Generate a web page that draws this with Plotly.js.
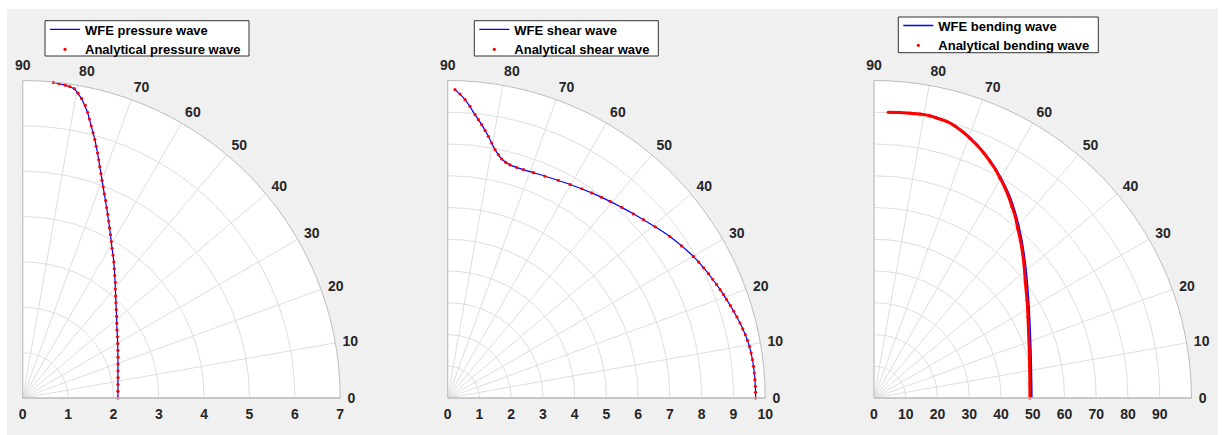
<!DOCTYPE html>
<html>
<head>
<meta charset="utf-8">
<script src="https://cdn.plot.ly/plotly-3.0.1.min.js"></script>
<style>
  html, body { margin: 0; padding: 0; background: #ffffff; }
  #chart { width: 1223px; height: 435px; }
</style>
</head>
<body>
<div id="chart"></div>
<script>
// ---- angular / radial ticks ----
const angleTicks = [0, 10, 20, 30, 40, 50, 60, 70, 80, 90];
const angleTickText = ['0', '10', '20', '30', '40', '50', '60', '70', '80', '90'];
const pressureRadialTicks = [0, 1, 2, 3, 4, 5, 6, 7];
const shearRadialTicks = [0, 1, 2, 3, 4, 5, 6, 7, 8, 9, 10];
const bendingRadialTicks = [0, 10, 20, 30, 40, 50, 60, 70, 80, 90];

// ---- pressure wave ----
const pressureWfeTheta = [0, 8.13, 15.95, 23.2, 29.8, 35.8, 41.0, 45.6, 49.6, 53.07, 56.18, 59.16, 61.74, 64.08, 66.23, 68.2, 69.97, 71.57, 73.0, 74.41, 75.87, 77.21, 78.86, 80.51, 82.26, 83.37, 84.46];
const pressureWfeR = [2.10, 2.121, 2.184, 2.285, 2.414, 2.564, 2.743, 2.938, 3.153, 3.378, 3.611, 3.843, 4.087, 4.336, 4.589, 4.847, 5.109, 5.376, 5.646, 5.918, 6.187, 6.46, 6.727, 6.915, 6.96, 6.975, 6.99];
const pressureAnaTheta = [0, 4.09, 8.13, 12.1, 15.95, 19.65, 23.2, 26.57, 29.8, 32.86, 35.8, 38.5, 41.0, 43.4, 45.6, 47.7, 49.6, 51.3, 53.07, 54.68, 56.18, 57.72, 59.16, 60.47, 61.74, 62.95, 64.08, 65.16, 66.23, 67.18, 68.2, 69.1, 69.97, 70.78, 71.57, 72.3, 73.0, 73.73, 74.41, 75.16, 75.87, 76.56, 77.21, 77.92, 78.86, 79.71, 80.51, 81.4, 82.26, 83.37, 84.46];
const pressureAnaR = [2.10, 2.105, 2.121, 2.148, 2.184, 2.23, 2.285, 2.348, 2.414, 2.488, 2.564, 2.651, 2.743, 2.837, 2.938, 3.044, 3.153, 3.266, 3.378, 3.493, 3.611, 3.726, 3.843, 3.965, 4.087, 4.211, 4.336, 4.463, 4.589, 4.719, 4.847, 4.977, 5.109, 5.242, 5.376, 5.511, 5.646, 5.782, 5.918, 6.052, 6.187, 6.323, 6.46, 6.596, 6.727, 6.83, 6.915, 6.945, 6.96, 6.975, 6.99];

// ---- shear wave ----
const shearWfeTheta = [0, 2.17, 4.66, 7.17, 9.7, 12.02, 14.39, 16.88, 19.42, 21.69, 24.14, 26.95, 29.97, 33.07, 36.02, 39.51, 42.34, 44.79, 47.62, 50.46, 54.92, 60.17, 66.29, 71.66, 75.04, 77.27, 79.21, 81.17, 82.91, 84.49, 86.67, 88.64];
const shearWfeR = [9.700, 9.697, 9.690, 9.675, 9.641, 9.583, 9.505, 9.413, 9.317, 9.235, 9.146, 9.045, 8.929, 8.785, 8.650, 8.472, 8.339, 8.236, 8.128, 8.031, 7.893, 7.752, 7.628, 7.579, 7.600, 7.717, 7.962, 8.340, 8.675, 8.965, 9.412, 9.714];
const shearAnaTheta = [0, 1.05, 2.17, 3.41, 4.66, 5.91, 7.17, 8.43, 9.7, 10.88, 12.02, 13.17, 14.39, 15.66, 16.88, 18.11, 19.42, 20.55, 21.69, 22.9, 24.14, 25.5, 26.95, 28.42, 29.97, 33.07, 36.02, 39.51, 42.34, 44.79, 47.62, 50.46, 52.54, 54.92, 57.34, 60.17, 63.06, 66.29, 69.16, 71.66, 73.32, 75.04, 76.17, 77.27, 78.24, 79.21, 80.21, 81.17, 82.06, 82.91, 83.71, 84.49, 85.62, 86.67, 87.68, 88.64];
const shearAnaR = [9.700, 9.699, 9.697, 9.694, 9.690, 9.684, 9.675, 9.661, 9.641, 9.615, 9.583, 9.546, 9.505, 9.458, 9.413, 9.367, 9.317, 9.276, 9.235, 9.191, 9.146, 9.097, 9.045, 8.990, 8.929, 8.785, 8.650, 8.472, 8.339, 8.236, 8.128, 8.031, 7.964, 7.893, 7.828, 7.752, 7.691, 7.628, 7.594, 7.579, 7.578, 7.600, 7.644, 7.717, 7.829, 7.962, 8.150, 8.340, 8.512, 8.675, 8.819, 8.965, 9.213, 9.412, 9.583, 9.714];

// ---- bending wave ----
const bendingWfeTheta = [0, 11.29, 22.63, 32.58, 41.12, 47.15, 52.07, 56.23, 60.16, 63.8, 67.87, 71.42, 75.27, 78.74, 82.76, 87.14];
const bendingWfeR = [49.7, 50.55, 53.35, 57.8, 63.4, 68.4, 72.9, 76.8, 80.2, 83.2, 86.2, 88.4, 90.15, 90.7, 90.45, 90.1];
const bendingAnaTheta = [0, 5.26, 11.29, 17.1, 22.63, 27.78, 32.58, 37.1, 41.12, 44.2, 47.15, 49.7, 52.07, 54.2, 56.23, 58.2, 60.16, 61.9, 63.8, 65.8, 67.87, 69.7, 71.42, 73.3, 75.27, 77.0, 78.74, 80.8, 82.76, 84.9, 87.14];
const bendingAnaR = [49.1, 49.3, 49.97, 51.16, 52.76, 54.8, 57.2, 59.8, 62.8, 65.3, 67.8, 70.0, 72.4, 74.3, 76.3, 78.1, 79.8, 81.4, 82.9, 84.5, 86.0, 87.2, 88.3, 89.3, 90.06, 90.3, 90.6, 90.6, 90.42, 90.3, 90.11];

// ---- legend labels ----
const pressureLabels = ['WFE pressure wave', 'Analytical pressure wave'];
const shearLabels = ['WFE shear wave', 'Analytical shear wave'];
const bendingLabels = ['WFE bending wave', 'Analytical bending wave'];

// ---- styling ----
const W = 1223, H = 435;
const FONT = 'Liberation Sans, Arial, Helvetica, sans-serif';
const tickFont = { family: FONT, size: 14, color: '#262626', weight: 'bold' };
const legendFont = { family: FONT, size: 13, color: '#000000', weight: 'bold' };
const BLUE = '#0000ff', RED = '#ff0000';
const GRID = '#dedede', EDGE = '#bdbdbd';
const R = 317.5;        // quarter radius in px
const baseY = 398;      // polar origin row in px (from top)

function polarLayout(originX, rmax, rTicks) {
  return {
    domain: { x: [originX / W, (originX + R) / W], y: [(H - baseY) / H, (H - baseY + R) / H] },
    sector: [0, 90],
    bgcolor: '#ffffff',
    radialaxis: {
      range: [0, rmax], tickmode: 'array', tickvals: rTicks, ticktext: rTicks.map(String),
      angle: 0, side: 'clockwise', showline: true, linecolor: EDGE, linewidth: 1,
      gridcolor: GRID, gridwidth: 1, ticks: 'outside', ticklen: 4, tickcolor: 'rgba(0,0,0,0)',
      tickfont: tickFont
    },
    angularaxis: {
      tickmode: 'array', tickvals: angleTicks, ticktext: angleTickText,
      direction: 'counterclockwise', rotation: 0, showline: true, linecolor: EDGE, linewidth: 1,
      gridcolor: GRID, gridwidth: 1, ticks: 'outside', ticklen: 4, tickcolor: 'rgba(0,0,0,0)',
      tickfont: tickFont
    }
  };
}

function legendLayout(leftPx, topPx) {
  return {
    x: leftPx / W, y: 1 - topPx / H, xanchor: 'left', yanchor: 'top',
    bgcolor: 'rgba(0,0,0,0)', borderwidth: 0,
    font: legendFont, itemwidth: 30, tracegroupgap: 0
  };
}

// framed white box drawn behind a legend
function legendBox(x0, y0, x1, y1) {
  return { type: 'rect', xref: 'paper', yref: 'paper', layer: 'above',
    x0: x0 / W, x1: x1 / W, y0: 1 - y1 / H, y1: 1 - y0 / H,
    fillcolor: '#ffffff', line: { color: '#333333', width: 1 } };
}

function strip(x0, y0, x1, y1) {
  return { type: 'rect', xref: 'paper', yref: 'paper', layer: 'above',
    x0: x0 / W, x1: x1 / W, y0: 1 - y1 / H, y1: 1 - y0 / H,
    fillcolor: '#ffffff', line: { width: 0 } };
}

const traces = [
  // pressure
  { type: 'scatterpolar', subplot: 'polar', legend: 'legend', name: pressureLabels[0],
    theta: pressureWfeTheta, r: pressureWfeR, mode: 'lines', line: { color: BLUE, width: 1.2 } },
  { type: 'scatterpolar', subplot: 'polar', legend: 'legend', name: pressureLabels[1],
    theta: pressureAnaTheta, r: pressureAnaR, mode: 'markers', marker: { color: RED, size: 3.2 } },
  // shear
  { type: 'scatterpolar', subplot: 'polar2', legend: 'legend2', name: shearLabels[0],
    theta: shearWfeTheta, r: shearWfeR, mode: 'lines', line: { color: BLUE, width: 1.2, shape: 'spline' } },
  { type: 'scatterpolar', subplot: 'polar2', legend: 'legend2', name: shearLabels[1],
    theta: shearAnaTheta, r: shearAnaR, mode: 'markers', marker: { color: RED, size: 3.2 } },
  // bending
  { type: 'scatterpolar', subplot: 'polar3', legend: 'legend3', name: bendingLabels[0],
    theta: bendingWfeTheta, r: bendingWfeR, mode: 'lines', line: { color: BLUE, width: 1.5, shape: 'spline' } },
  { type: 'scatterpolar', subplot: 'polar3', showlegend: false, hoverinfo: 'skip',
    theta: bendingAnaTheta, r: bendingAnaR, mode: 'lines', line: { color: RED, width: 3.0, shape: 'spline' } },
  { type: 'scatterpolar', subplot: 'polar3', legend: 'legend3', name: bendingLabels[1],
    theta: bendingAnaTheta, r: bendingAnaR, mode: 'markers', marker: { color: RED, size: 3.2 } }
];

const layout = {
  width: W, height: H,
  margin: { l: 0, r: 0, t: 0, b: 0, pad: 0 },
  paper_bgcolor: '#f0f0f0',
  font: { family: FONT },
  polar: polarLayout(22.7, 7, pressureRadialTicks),
  polar2: polarLayout(447.7, 10, shearRadialTicks),
  polar3: polarLayout(874, 100, bendingRadialTicks),
  legend: legendLayout(45, 14.5),
  legend2: legendLayout(474.3, 14.5),
  legend3: legendLayout(898.3, 10.5),
  shapes: [
    strip(0, 0, W, 9),
    strip(0, 0, 7, H),
    strip(1218, 0, W, H),
    legendBox(45, 20.7, 249, 56),
    legendBox(474.3, 20.7, 658.3, 56),
    legendBox(898.3, 17, 1098.3, 52.7)
  ]
};

Plotly.newPlot('chart', traces, layout, { staticPlot: true, displayModeBar: false });
</script>
</body>
</html>
